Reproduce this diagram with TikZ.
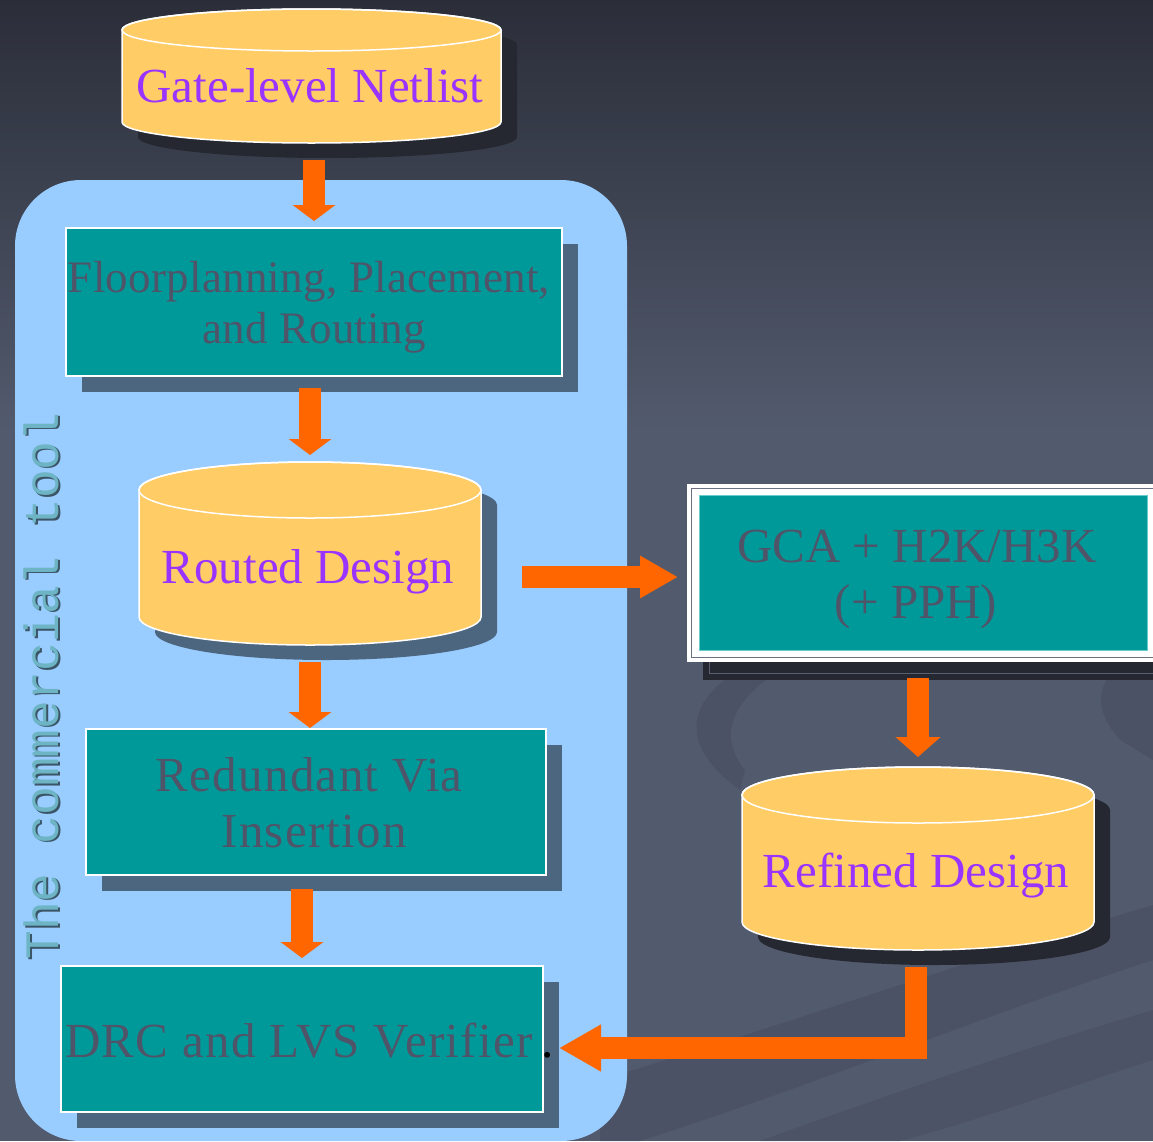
\documentclass[tikz,border=0pt]{standalone}
\usepackage{fontspec}
\setmainfont{Liberation Serif}
\newfontfamily\toolmono{Liberation Mono}
\usetikzlibrary{arrows.meta}

\definecolor{bgtop}{HTML}{2B2E39}
\definecolor{bgbot}{HTML}{525A6D}
\definecolor{swoosh}{HTML}{484D60}
\definecolor{regionblue}{HTML}{99CCFF}
\definecolor{cylfill}{HTML}{FFCC66}
\definecolor{purpletext}{HTML}{9933FF}
\definecolor{tealfill}{HTML}{009999}
\definecolor{tealborder}{HTML}{66CCCC}
\definecolor{boxtext}{HTML}{505469}
\definecolor{shadowblue}{HTML}{4C6680}
\definecolor{shadowdark}{HTML}{252830}
\definecolor{shadowline}{HTML}{596072}
\definecolor{frameline}{HTML}{6B7082}
\definecolor{arroworange}{HTML}{FF6600}
\definecolor{tooltext}{HTML}{6DB4C5}
\definecolor{toolshade}{HTML}{3B5566}

\tikzset{
  barrow/.style={draw=arroworange, line width=22pt, line join=miter},
  vhead/.style={-{Triangle[width=42pt,length=16pt]}},
  cyltext/.style={text=purpletext, font=\fontsize{49}{56}\selectfont, inner sep=0pt, anchor=base},
  boxlabel/.style={text=boxtext, font=\fontsize{49}{56}\selectfont, inner sep=0pt, anchor=base},
  spaced/.style={font=\fontsize{49}{56}\selectfont\addfontfeature{LetterSpace=2.8}},
  procbox/.style={draw=white, line width=1.5pt, fill=tealfill, inner sep=0pt, outer sep=0pt, anchor=north west},
  cylnode/.style={inner sep=0pt, outer sep=0pt},
  tooltxt/.style={rotate=90, anchor=base, inner sep=0pt, font=\toolmono\fontsize{48}{48}\selectfont},
}

% #1 name, #2 left, #3 right, #4 top-ellipse centre y, #5 bottom-ellipse centre y, #6 y radius, #7 shadow colour
\newcommand\dbcylinder[7]{%
  \pgfmathsetmacro\cylcx{(#2+#3)/2}%
  \pgfmathsetmacro\cylrx{(#3-#2)/2}%
  \pgfmathsetmacro\cylw{#3-#2}%
  \pgfmathsetmacro\cylh{#5-#4+2*#6}%
  \pgfmathsetmacro\cylcy{-(#4+#5)/2}%
  \fill[#7, xshift=16pt, yshift=-15pt] (#2,-#4) -- (#2,-#5)
     arc[start angle=180, end angle=360, x radius=\cylrx pt, y radius=#6 pt]
     -- (#3,-#4)
     arc[start angle=0, end angle=180, x radius=\cylrx pt, y radius=#6 pt] -- cycle;
  \filldraw[fill=cylfill, draw=white, line width=1.5pt] (#2,-#4) -- (#2,-#5)
     arc[start angle=180, end angle=360, x radius=\cylrx pt, y radius=#6 pt]
     -- (#3,-#4)
     arc[start angle=0, end angle=180, x radius=\cylrx pt, y radius=#6 pt] -- cycle;
  \draw[white, line width=1.5pt] (\cylcx,-#4) ellipse[x radius=\cylrx pt, y radius=#6 pt];
  \node[cylnode, minimum width=\cylw pt, minimum height=\cylh pt] (#1) at (\cylcx,\cylcy) {};
}

\begin{document}
\begin{tikzpicture}[x=1pt,y=1pt]
\useasboundingbox (0,0) rectangle (1153,-1141);

% background
\fill[bgbot] (0,0) rectangle (1153,-1141);
\shade[top color=bgtop, bottom color=bgbot] (0,0) rectangle (1153,-430);
\fill[swoosh, opacity=0.6] (600,-1080) .. controls (800,-1020) and (1000,-950) .. (1153,-905)
   -- (1153,-960) .. controls (1000,-1010) and (800,-1090) .. (640,-1141) -- (600,-1141) -- cycle;
\fill[swoosh, opacity=0.5] (760,-1141) .. controls (900,-1090) and (1050,-1040) .. (1153,-1010)
   -- (1153,-1060) .. controls (1060,-1090) and (980,-1120) .. (900,-1141) -- cycle;
\fill[swoosh, opacity=0.6] (760,-660) .. controls (690,-690) and (670,-740) .. (740,-790)
   -- (745,-770) .. controls (720,-740) and (725,-700) .. (790,-665) -- cycle;
\fill[swoosh, opacity=0.6] (1153,-640) .. controls (1100,-670) and (1085,-700) .. (1120,-740)
   -- (1153,-760) -- cycle;

% region of the commercial tool
\fill[regionblue, rounded corners=66pt] (15,-180) rectangle (627,-1141);

% vertical label
\node[tooltxt, text=toolshade] (toolshadow) at (60,-687.5) {The commercial tool};
\node[tooltxt, text=tooltext] (tool) at (58,-686) {The commercial tool};

% cylinders
\dbcylinder{gate}{122}{501}{30}{122}{21}{shadowdark}
\node[cyltext] (gatetxt) at (310,-102) {Gate-level Netlist};

\dbcylinder{routed}{139}{481}{490}{617}{28}{shadowblue}
\node[cyltext] (routedtxt) at (308,-583) {Routed Design};

\dbcylinder{refined}{742}{1094}{795}{922}{28}{shadowdark}
\node[cyltext] (refinedtxt) at (916,-887) {Refined Design};

% process boxes in the tool
\fill[shadowblue] (82,-244) rectangle (578,-392);
\node[procbox, minimum width=496pt, minimum height=148pt] (floor) at (66,-228) {};
\node[boxlabel, font=\fontsize{45}{51}\selectfont\addfontfeature{LetterSpace=0.6}] (floortxta) at (309,-292) {Floorplanning, Placement,};
\node[boxlabel, font=\fontsize{45}{51}\selectfont\addfontfeature{LetterSpace=0.6}] (floortxtb) at (314,-343) {and Routing};

\fill[shadowblue] (102,-745) rectangle (562,-891);
\node[procbox, minimum width=460pt, minimum height=146pt] (redund) at (86,-729) {};
\node[boxlabel, spaced] (redundtxta) at (309,-791) {Redundant Via};
\node[boxlabel, spaced] (redundtxtb) at (314,-847) {Insertion};

\fill[shadowblue] (77,-982) rectangle (559,-1128);
\node[procbox, minimum width=482pt, minimum height=146pt] (drc) at (61,-966) {};
\node[boxlabel, spaced] (drctxt) at (299,-1057) {DRC and LVS Verifier};
\node[text=black, font=\fontsize{49}{56}\selectfont, inner sep=0pt, anchor=base] (drcdot) at (548,-1057) {.};

% GCA box (framed)
\fill[shadowdark] (703,-500) rectangle (1170,-680);
\draw[shadowline, line width=0.8pt] (709,-506) rectangle (1170,-673);
\node[fill=white, inner sep=0pt, outer sep=0pt, anchor=north west, minimum width=473pt, minimum height=178pt] (gca) at (687,-484) {};
\draw[frameline, line width=1pt] (691.5,-488.5) rectangle (1170,-657.5);
\filldraw[fill=tealfill, draw=tealborder, line width=1pt] (699,-495) rectangle (1147,-650);
\node[boxlabel] (gcatxta) at (917,-562) {GCA + H2K/H3K};
\node[boxlabel] (gcatxtb) at (916,-618) {(+ PPH)};

% connectors
\draw[barrow, vhead, shorten <=17pt, shorten >=7pt] (floor.north |- gate.south) -- (floor.north);
\draw[barrow, vhead, shorten <=12pt, shorten >=7pt] (routed.north |- floor.south) -- (routed.north);
\draw[barrow, vhead, shorten <=17pt, shorten >=1pt] (routed.south) -- (routed.south |- redund.north);
\draw[barrow, vhead, shorten <=14pt, shorten >=8pt] (drc.north |- redund.south) -- (drc.north);

\coordinate (hy) at (0,-577);
\draw[barrow, -{Triangle[width=40pt,length=38pt]}, shorten <=41pt, shorten >=9pt]
  (routed.east |- hy) -- (gca.west |- hy);

\draw[barrow, -{Triangle[width=44pt,length=20pt]}, shorten <=16pt, shorten >=10pt]
  (refined.north |- gca.south) -- (refined.north);

\coordinate (elbow) at (916,-1048);
\draw[barrow, -{Triangle[width=44pt,length=42pt]}, shorten <=17pt, shorten >=16pt]
  (elbow |- refined.south) -- (elbow) -- ([yshift=-9pt]drc.east);
\end{tikzpicture}
\end{document}
